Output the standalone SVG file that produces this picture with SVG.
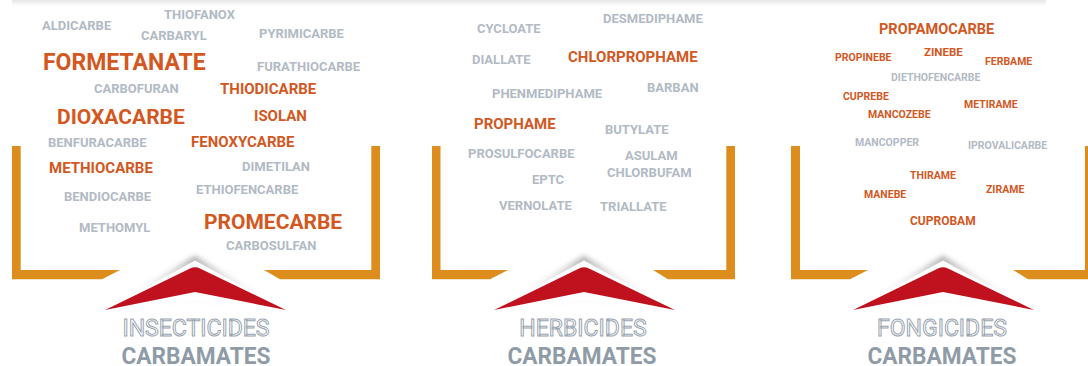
<svg xmlns="http://www.w3.org/2000/svg" width="1088" height="366" viewBox="0 0 1088 366">
<style>
text{font-family:Roboto,"Liberation Sans",Arial,sans-serif;font-weight:700}
.g{fill:#b2bac4;font-size:13px}
.o{fill:#d2581f}
.f15{font-size:15px}
.f21{font-size:21px}
.f23{font-size:23px}
.g3{fill:#b2bac4;font-size:10.5px}
.o3{fill:#d2581f;font-size:10.5px}
.title{fill:#ffffff;stroke:#9aa5b0;stroke-width:1;font-weight:400;font-size:23px;text-anchor:middle}
.sub{fill:#8f9ca7;font-size:24px;text-anchor:middle}
.bar{fill:#dc8d1d}
</style>
<defs>
<linearGradient id="topsh" x1="0" y1="0" x2="0" y2="1">
<stop offset="0" stop-color="#e6e6e6"/>
<stop offset="1" stop-color="#ffffff"/>
</linearGradient>
<radialGradient id="shg" gradientUnits="userSpaceOnUse" cx="0" cy="258" r="75">
<stop offset="0" stop-color="#777777" stop-opacity="0.55"/>
<stop offset="0.45" stop-color="#999999" stop-opacity="0.25"/>
<stop offset="1" stop-color="#bbbbbb" stop-opacity="0"/>
</radialGradient>
<filter id="blur" x="-20%" y="-40%" width="140%" height="180%">
<feGaussianBlur stdDeviation="2.5"/>
</filter>
<g id="chev">
<path d="M-100,314 L0,255.5 L100,314 L0,298 Z" fill="url(#shg)" filter="url(#blur)"/>
<path d="M-102,317 L0,260.5 L102,317 L0,300 Z" fill="#ffffff"/>
<path d="M-90,310 L-5,268.5 Q0,266 5,268.5 L91,310 L0,292 Z" fill="#c0121e"/>
</g>
</defs>
<rect x="0" y="0" width="1088" height="366" fill="#ffffff"/>
<rect x="12" y="0" width="1034" height="6" fill="url(#topsh)"/>

<g id="insecticides">
<path class="bar" d="M12,146 H20.7 V270 H120 L102,279.3 H12 Z"/>
<path class="bar" d="M380,146 H371.3 V270 H264 L280,279.3 H380 Z"/>
<use href="#chev" transform="translate(195,0)"/>
<text class="g" x="42" y="30">ALDICARBE</text>
<text class="g" x="164" y="19">THIOFANOX</text>
<text class="g" x="141" y="40">CARBARYL</text>
<text class="g" x="259" y="38">PYRIMICARBE</text>
<text class="o f23" x="43" y="70">FORMETANATE</text>
<text class="g" x="257" y="71">FURATHIOCARBE</text>
<text class="g" x="94" y="93">CARBOFURAN</text>
<text class="o f15" x="220" y="94">THIODICARBE</text>
<text class="o f21" x="57" y="124">DIOXACARBE</text>
<text class="o f15" x="254" y="121">ISOLAN</text>
<text class="g" x="48" y="147">BENFURACARBE</text>
<text class="o f15" x="191" y="147">FENOXYCARBE</text>
<text class="o f15" x="49" y="173">METHIOCARBE</text>
<text class="g" x="242" y="171">DIMETILAN</text>
<text class="g" x="64" y="201">BENDIOCARBE</text>
<text class="g" x="196" y="194">ETHIOFENCARBE</text>
<text class="g" x="79" y="232">METHOMYL</text>
<text class="o f21" x="204" y="229">PROMECARBE</text>
<text class="g" x="226" y="250">CARBOSULFAN</text>
<text class="title" x="196" y="336">INSECTICIDES</text>
<text class="sub" x="196" y="364" textLength="149" lengthAdjust="spacingAndGlyphs">CARBAMATES</text>
</g>

<g id="herbicides">
<path class="bar" d="M432,146 H440.5 V270 H508 L490,279.3 H432 Z"/>
<path class="bar" d="M735,146 H726.3 V270 H653 L668,279.3 H735 Z"/>
<use href="#chev" transform="translate(584,0)"/>
<text class="g" x="477" y="33">CYCLOATE</text>
<text class="g" x="603" y="23">DESMEDIPHAME</text>
<text class="g" x="472" y="64">DIALLATE</text>
<text class="o f15" x="568" y="62">CHLORPROPHAME</text>
<text class="g" x="492" y="98">PHENMEDIPHAME</text>
<text class="g" x="647" y="92">BARBAN</text>
<text class="o f15" x="474" y="129">PROPHAME</text>
<text class="g" x="605" y="134">BUTYLATE</text>
<text class="g" x="468" y="158">PROSULFOCARBE</text>
<text class="g" x="625" y="160">ASULAM</text>
<text class="g" x="607" y="177">CHLORBUFAM</text>
<text class="g" x="532" y="184">EPTC</text>
<text class="g" x="499" y="210">VERNOLATE</text>
<text class="g" x="600" y="211">TRIALLATE</text>
<text class="title" x="583" y="336">HERBICIDES</text>
<text class="sub" x="582" y="364" textLength="149" lengthAdjust="spacingAndGlyphs">CARBAMATES</text>
</g>

<g id="fongicides">
<path class="bar" d="M791,146 H800 V270 H868 L850,279.3 H791 Z"/>
<path class="bar" d="M1094,146 H1085 V270 H1013 L1028,279.3 H1094 Z"/>
<use href="#chev" transform="translate(943,0)"/>
<text class="o" style="font-size:14.5px" x="879" y="34">PROPAMOCARBE</text>
<text class="o3" x="835" y="61">PROPINEBE</text>
<text class="o" style="font-size:11.5px" x="924" y="56">ZINEBE</text>
<text class="o3" x="985" y="65">FERBAME</text>
<text class="g3" x="891" y="81">DIETHOFENCARBE</text>
<text class="o3" x="843" y="100">CUPREBE</text>
<text class="o3" x="964" y="108">METIRAME</text>
<text class="o3" x="868" y="118">MANCOZEBE</text>
<text class="g3" x="855" y="146">MANCOPPER</text>
<text class="g3" x="968" y="149">IPROVALICARBE</text>
<text class="o3" x="910" y="179">THIRAME</text>
<text class="o3" x="986" y="193">ZIRAME</text>
<text class="o3" x="864" y="198">MANEBE</text>
<text class="o" style="font-size:12px" x="910" y="225">CUPROBAM</text>
<text class="title" x="942" y="336">FONGICIDES</text>
<text class="sub" x="942" y="364" textLength="149" lengthAdjust="spacingAndGlyphs">CARBAMATES</text>
</g>
</svg>
